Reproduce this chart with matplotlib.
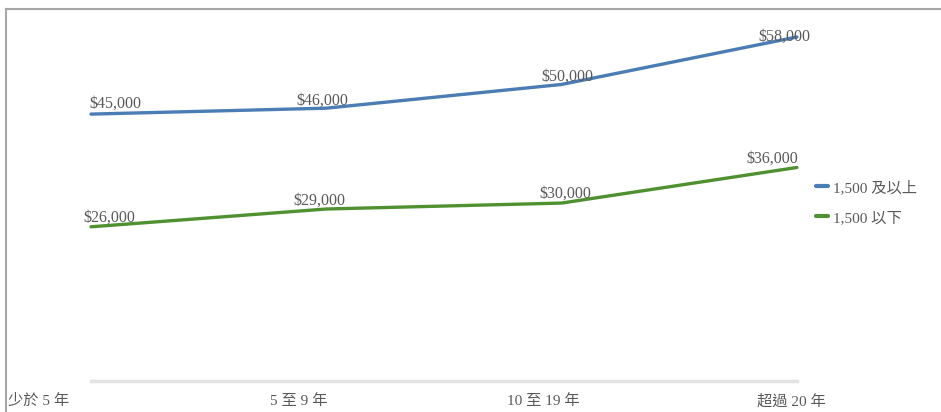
import matplotlib
matplotlib.use("Agg")
import matplotlib.pyplot as plt
import matplotlib.transforms as mtransforms

plt.rcParams['font.family'] = ['Liberation Serif', 'Noto Sans CJK TC']

categories = ['少於 5 年', '5 至 9 年', '10 至 19 年', '超過 20 年']
above_1500 = [45000, 46000, 50000, 58000]
below_1500 = [26000, 29000, 30000, 36000]
series_names = ['1,500 及以上', '1,500 以下']

text_color = '#595959'
blue = '#4a7db4'
green = '#4f9130'

fig = plt.figure(figsize=(9.41, 4.12), dpi=100)
W, H = 941, 412
ax = fig.add_axes([6 / W, 0, 1 - 6 / W, 1 - 9 / H])

x = list(range(len(categories)))
px = 235.3  # pixels per category step
ax.set_xlim((6 - 91) / px, (941 - 91) / px)
per_px = 58000 / 344
ax.set_ylim(-(412 - 381) * per_px, (381 - 9) * per_px)

# baseline
ax.plot([x[0], x[-1]], [0, 0], color='#e3e3e3', lw=2.5, zorder=1)

ax.plot(x, above_1500, color=blue, lw=2.4, label=series_names[0], zorder=3,
        solid_capstyle='round')
ax.plot(x, below_1500, color=green, lw=2.4, label=series_names[1], zorder=3,
        solid_capstyle='round')

# data labels (offsets in pixels)
def px_off(dx, dy):
    return (dx * 0.72, dy * 0.72)

blue_off = [(24, 10), (-4, 8), (6, 8), (-13, 0)]
green_off = [(18, 9), (-7, 8), (4, 9), (-25, 9)]
for xi, v, o in zip(x, above_1500, blue_off):
    ax.annotate(f'${v:,}', (xi, v), xytext=px_off(*o), textcoords='offset points',
                ha='center', va='center', fontsize=11.5, color=text_color, zorder=4)
for xi, v, o in zip(x, below_1500, green_off):
    ax.annotate(f'${v:,}', (xi, v), xytext=px_off(*o), textcoords='offset points',
                ha='center', va='center', fontsize=11.5, color=text_color, zorder=4)

# category labels
label_shift = [-52, -28, -18, -6]
for xi, lab, s in zip(x, categories, label_shift):
    tr = mtransforms.blended_transform_factory(ax.transData, fig.transFigure)
    tr = tr + mtransforms.ScaledTranslation(s / 100, 0, fig.dpi_scale_trans)
    ax.text(xi, 1 - 401 / H, lab, transform=tr, ha='center', va='center',
            fontsize=11, color=text_color)

ax.set_xticks([])
ax.set_yticks([])
for side in ['right', 'bottom']:
    ax.spines[side].set_visible(False)
for side in ['left', 'top']:
    ax.spines[side].set_color('#a6a6a6')
    ax.spines[side].set_linewidth(1.5)

leg = ax.legend(loc='upper left', bbox_to_anchor=(816 / W, 1 - 180 / H),
                bbox_transform=fig.transFigure, frameon=False, fontsize=11,
                handlelength=0.8, handletextpad=0.3, labelspacing=1.05,
                borderpad=0, borderaxespad=0)
for t in leg.get_texts():
    t.set_color(text_color)
for h in leg.get_lines():
    h.set_linewidth(3)

fig.savefig('out.png', dpi=100)
